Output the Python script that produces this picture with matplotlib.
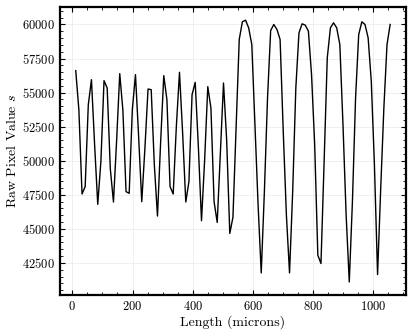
import numpy as np
import matplotlib
matplotlib.use("Agg")
import matplotlib.pyplot as plt
from matplotlib.ticker import AutoMinorLocator

plt.rcParams['font.family'] = 'serif'
plt.rcParams['font.serif'] = ['cmr10', 'DejaVu Serif']
plt.rcParams['mathtext.fontset'] = 'cm'
plt.rcParams['axes.formatter.use_mathtext'] = True

# Data: raw pixel value sampled along the length
length_start = 11.2
length_step = 10.45
pixel_values = [
    56614, 53743, 47558, 48098, 54111, 55951, 51200, 46798, 49935, 55878,
    55338, 49400, 46970, 51450, 56393, 53700, 47730, 47607, 53743, 56320,
    51800, 46995, 50900, 55264, 55215, 49700, 45939, 51350, 56246, 54479,
    48098, 47558, 52516, 56491, 52025, 46970, 48467, 54847, 55755, 51043,
    45595, 50062, 55436, 53866, 46995, 45473, 50553, 55706, 51534, 44663,
    45850, 52400, 58896, 60196, 60319, 59754, 58527, 52638, 46748, 41766,
    47730, 54601, 59558, 60000, 59632, 58896, 52147, 46012, 41766, 47730,
    55337, 59386, 60049, 59951, 59509, 56319, 51165, 43065, 42455, 49938,
    57546, 59754, 60123, 59754, 58527, 52638, 46012, 41104, 46994, 54601,
    59264, 60196, 60000, 59018, 55828, 49693, 41643, 47975, 53865, 58527,
    60000,
]
length = length_start + length_step * np.arange(len(pixel_values))

x_label = "Length (microns)"
y_label = r"Raw Pixel Value $s$"

fig = plt.figure(figsize=(4.15, 3.36), dpi=100)
ax = fig.add_axes([0.1446, 0.122, 0.8334, 0.857])
ax.plot(length, pixel_values, color='black', lw=1.0)

ax.set_xlabel(x_label, fontsize=10, labelpad=1.5)
ax.set_ylabel(y_label, fontsize=10, labelpad=2.5)
ax.set_xticks([0, 200, 400, 600, 800, 1000])
ax.set_yticks([42500, 45000, 47500, 50000, 52500, 55000, 57500, 60000])
ax.xaxis.set_minor_locator(AutoMinorLocator(4))
ax.yaxis.set_minor_locator(AutoMinorLocator(5))
ax.tick_params(which='both', direction='in', top=True, right=True, labelsize=9)
ax.tick_params(which='major', length=3.5, width=0.8)
ax.tick_params(which='minor', length=2, width=0.6)
ax.grid(True, which='major', color='#ececec', lw=0.6)
ax.set_axisbelow(True)
for s in ax.spines.values():
    s.set_linewidth(1.6)

fig.savefig("out.png", dpi=100)
